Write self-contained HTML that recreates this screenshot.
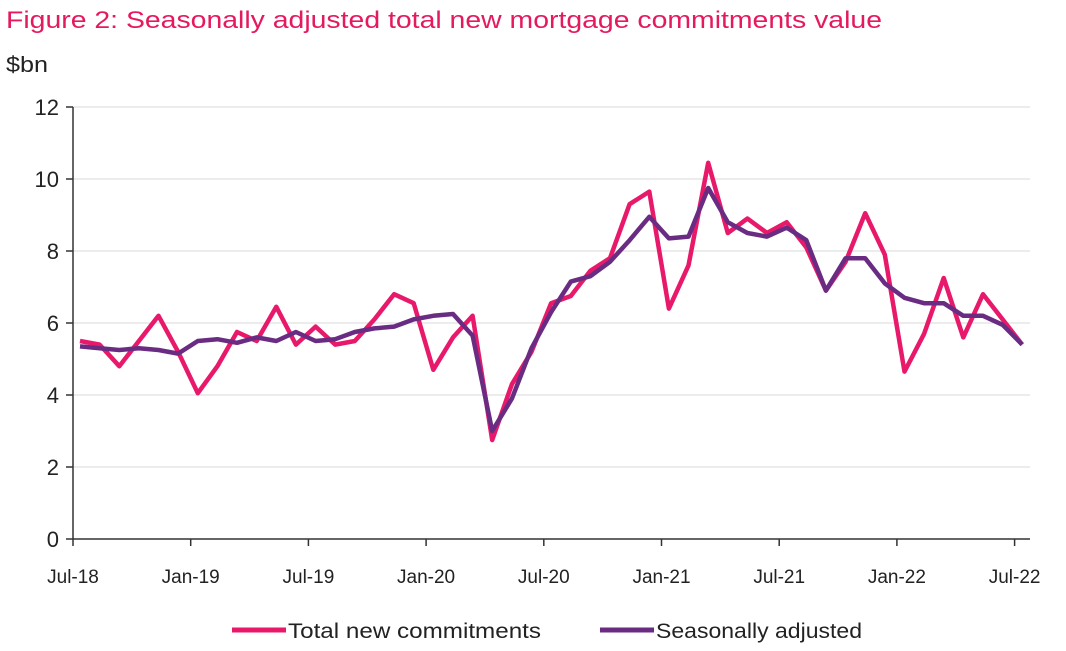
<!DOCTYPE html>
<html><head><meta charset="utf-8"><style>
body{margin:0;background:#fff;width:1066px;height:651px;overflow:hidden}
svg{display:block}
text{font-family:"Liberation Sans",sans-serif}
</style></head><body>
<svg id="c" width="1066" height="651" xmlns="http://www.w3.org/2000/svg">
<text x="6" y="28" fill="#e5195e" font-size="24" textLength="876" lengthAdjust="spacingAndGlyphs">Figure 2:  Seasonally adjusted total new mortgage commitments value</text>
<text x="6" y="72" fill="#222" font-size="22" textLength="42" lengthAdjust="spacingAndGlyphs">$bn</text>
<g id="grid"></g>
<g id="series"></g>
<g font-size="21" fill="#222">
<line x1="232" y1="630" x2="286" y2="630" stroke="#e8196a" stroke-width="5"/>
<text x="288" y="638" textLength="253" lengthAdjust="spacingAndGlyphs">Total new commitments</text>
<line x1="600" y1="630" x2="654" y2="630" stroke="#6a2c82" stroke-width="5"/>
<text x="656" y="638" textLength="206" lengthAdjust="spacingAndGlyphs">Seasonally adjusted</text>
</g>
</svg>
<script>
const NS="http://www.w3.org/2000/svg";
const g=document.getElementById('grid'),s=document.getElementById('series');
function el(p,t,a,txt){const e=document.createElementNS(NS,t);for(const k in a)e.setAttribute(k,a[k]);if(txt)e.textContent=txt;p.appendChild(e);return e;}
const y0=539,py=36,x0=73,L=1030;
for(let v=0;v<=12;v+=2){const y=y0-v*py;
 if(v>0)el(g,'line',{x1:x0,x2:L,y1:y,y2:y,stroke:'#d9d9d9','stroke-width':1});
 el(g,'line',{x1:x0-7,x2:x0,y1:y,y2:y,stroke:'#333','stroke-width':1.5});
 el(g,'text',{x:x0-14,y:y+8,'text-anchor':'end','font-size':22,fill:'#222'},String(v));}
el(g,'line',{x1:x0,x2:x0,y1:107,y2:y0,stroke:'#333','stroke-width':1.5});
el(g,'line',{x1:x0,x2:L,y1:y0,y2:y0,stroke:'#333','stroke-width':1.5});
const labs=['Jul-18','Jan-19','Jul-19','Jan-20','Jul-20','Jan-21','Jul-21','Jan-22','Jul-22'];
for(let i=0;i<9;i++){const x=x0+i*117.7;
 el(g,'line',{x1:x,x2:x,y1:y0,y2:y0+7,stroke:'#333','stroke-width':1.5});
 el(g,'text',{x:x,y:y0+44,'text-anchor':'middle','font-size':19,fill:'#222'},labs[i]);}
const pink=[5.5,5.4,4.8,5.5,6.2,5.2,4.05,4.8,5.75,5.5,6.45,5.4,5.9,5.4,5.5,6.1,6.8,6.55,4.7,5.6,6.2,2.75,4.3,5.2,6.55,6.75,7.45,7.8,9.3,9.65,6.4,7.6,10.45,8.5,8.9,8.5,8.8,8.1,6.9,7.7,9.05,7.9,4.65,5.7,7.25,5.6,6.8,6.1,5.4];
const pur=[5.35,5.3,5.25,5.3,5.25,5.15,5.5,5.55,5.45,5.6,5.5,5.75,5.5,5.55,5.75,5.85,5.9,6.1,6.2,6.25,5.65,3.0,3.9,5.3,6.3,7.15,7.3,7.7,8.3,8.95,8.35,8.4,9.75,8.8,8.5,8.4,8.65,8.3,6.9,7.8,7.8,7.1,6.7,6.55,6.55,6.2,6.2,5.95,5.4];
function pts(a){return a.map((v,i)=>(80+i*19.63).toFixed(1)+','+(y0-v*py).toFixed(1)).join(' ');}
el(s,'polyline',{points:pts(pink),fill:'none',stroke:'#e8196a','stroke-width':4.5,'stroke-linejoin':'round'});
el(s,'polyline',{points:pts(pur),fill:'none',stroke:'#6a2c82','stroke-width':4.5,'stroke-linejoin':'round'});
</script>
</body></html>
